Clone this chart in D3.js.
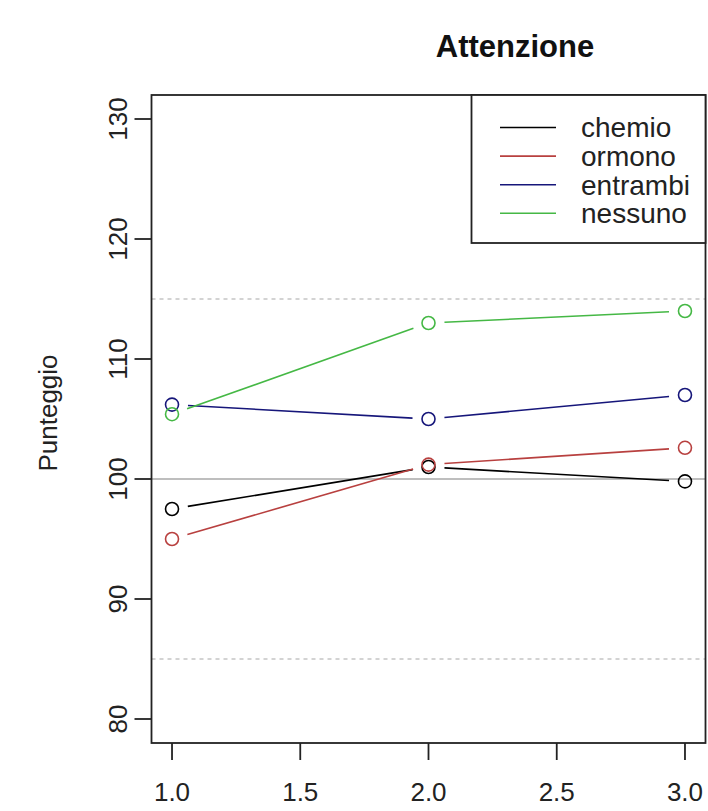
<!DOCTYPE html>
<html>
<head>
<meta charset="utf-8">
<script src="https://cdn.jsdelivr.net/npm/d3@7"></script>
<style>
  body { margin: 0; background: white; }
  svg { font-family: "Liberation Sans", Arial, sans-serif; }
</style>
</head>
<body>
<svg id="chart" width="708" height="811"></svg>
<script>
// data
const times = [1, 2, 3];
const xTicks = [1.0, 1.5, 2.0, 2.5, 3.0];
const yTicks = [80, 90, 100, 110, 120, 130];
const groups = ["chemio", "ormono", "entrambi", "nessuno"];
const colors = ["black", "#b8403f", "#16167a", "#45b845"];
const chemio = [97.5, 101.0, 99.8];
const ormono = [95.0, 101.2, 102.6];
const entrambi = [106.2, 105.0, 107.0];
const nessuno = [105.4, 113.0, 114.0];
const refSolid = [100];
const refDashed = [85, 115];

const series = [chemio, ormono, entrambi, nessuno].map((vals, i) => ({
    name: groups[i],
    color: colors[i],
    points: vals.map((v, j) => ({x: times[j], y: v}))
}));

const svg = d3.select("#chart");

const box = {left: 151.5, right: 705.5, top: 95, bottom: 743};

// R style: range extended by 4% on each side
const x = d3.scaleLinear().domain([0.92, 3.08]).range([box.left, box.right]);
const y = d3.scaleLinear().domain([78, 132]).range([box.bottom, box.top]);

// reference lines
const refGroup = svg.append("g")
refGroup.selectAll("line.solid")
    .data(refSolid)
    .enter()
    .append("line")
    .attr("class", "solid")
    .attr("x1", box.left).attr("x2", box.right)
    .attr("y1", d => y(d)).attr("y2", d => y(d))
    .attr("stroke", "#a8a8a8")
    .attr("stroke-width", 1.5);
refGroup.selectAll("line.dashed")
    .data(refDashed)
    .enter()
    .append("line")
    .attr("class", "dashed")
    .attr("x1", box.left).attr("x2", box.right)
    .attr("y1", d => y(d)).attr("y2", d => y(d))
    .attr("stroke", "#a8a8a8")
    .attr("stroke-width", 1.2)
    .attr("stroke-dasharray", "4,4");

// type = "b": segments stop short of the points
const gap = 16;
const segs = [];
series.forEach(s => {
    for (let i = 0; i < s.points.length - 1; i++) {
        const p = s.points[i], q = s.points[i + 1];
        const x1 = x(p.x), y1 = y(p.y), x2 = x(q.x), y2 = y(q.y);
        const len = Math.hypot(x2 - x1, y2 - y1);
        const ux = (x2 - x1) / len, uy = (y2 - y1) / len;
        segs.push({color: s.color, x1: x1 + ux * gap, y1: y1 + uy * gap, x2: x2 - ux * gap, y2: y2 - uy * gap});
    }
});

const lineGroup = svg.append("g")
lineGroup.selectAll("line")
    .data(segs)
    .enter()
    .append("line")
    .attr("x1", d => d.x1).attr("y1", d => d.y1)
    .attr("x2", d => d.x2).attr("y2", d => d.y2)
    .attr("stroke", d => d.color)
    .attr("stroke-width", 1.6);

const pointGroup = svg.append("g")
series.forEach(s => {
    pointGroup.append("g").selectAll("circle")
        .data(s.points)
        .enter()
        .append("circle")
        .attr("cx", d => x(d.x))
        .attr("cy", d => y(d.y))
        .attr("r", 6.5)
        .attr("fill", "none")
        .attr("stroke", s.color)
        .attr("stroke-width", 1.6);
});

// plot box
svg.append("rect")
    .attr("x", box.left).attr("y", box.top)
    .attr("width", box.right - box.left).attr("height", box.bottom - box.top)
    .attr("fill", "none")
    .attr("stroke", "#222")
    .attr("stroke-width", 1.8);

// axes
const tickLen = 17;
const xAxis = svg.append("g")
xAxis.selectAll("line")
    .data(xTicks)
    .enter()
    .append("line")
    .attr("x1", d => x(d)).attr("x2", d => x(d))
    .attr("y1", box.bottom).attr("y2", box.bottom + tickLen)
    .attr("stroke", "#222")
    .attr("stroke-width", 1.8);
xAxis.selectAll("text")
    .data(xTicks)
    .enter()
    .append("text")
    .attr("x", d => x(d))
    .attr("y", 801)
    .attr("text-anchor", "middle")
    .attr("font-size", "26px")
    .attr("fill", "#222")
    .text(d => d3.format(".1f")(d));

const yAxis = svg.append("g")
yAxis.selectAll("line")
    .data(yTicks)
    .enter()
    .append("line")
    .attr("x1", box.left - tickLen).attr("x2", box.left)
    .attr("y1", d => y(d)).attr("y2", d => y(d))
    .attr("stroke", "#222")
    .attr("stroke-width", 1.8);
yAxis.selectAll("text")
    .data(yTicks)
    .enter()
    .append("text")
    .attr("transform", d => `translate(127,${y(d)}) rotate(-90)`)
    .attr("text-anchor", "middle")
    .attr("font-size", "26px")
    .attr("fill", "#222")
    .text(d => d);

svg.append("text")
    .attr("transform", "translate(57,413) rotate(-90)")
    .attr("text-anchor", "middle")
    .attr("font-size", "26px")
    .attr("fill", "#222")
    .text("Punteggio");

svg.append("text")
    .attr("x", 515)
    .attr("y", 57)
    .attr("text-anchor", "middle")
    .attr("font-size", "31px")
    .attr("font-weight", "bold")
    .attr("fill", "#111")
    .text("Attenzione");

// legend
const legend = svg.append("g")
legend.append("rect")
    .attr("x", 471.5).attr("y", box.top)
    .attr("width", box.right - 471.5).attr("height", 148)
    .attr("fill", "white")
    .attr("stroke", "#222")
    .attr("stroke-width", 1.8);
const rows = legend.selectAll("g.row")
    .data(series)
    .enter()
    .append("g")
    .attr("class", "row")
    .attr("transform", (d, i) => `translate(0,${127.5 + i * 28.6})`);
rows.append("line")
    .attr("x1", 500).attr("x2", 556)
    .attr("stroke", d => d.color)
    .attr("stroke-width", 1.6);
rows.append("text")
    .attr("x", 581)
    .attr("dy", "0.35em")
    .attr("font-size", "28px")
    .attr("fill", "#222")
    .text(d => d.name);
</script>
</body>
</html>
